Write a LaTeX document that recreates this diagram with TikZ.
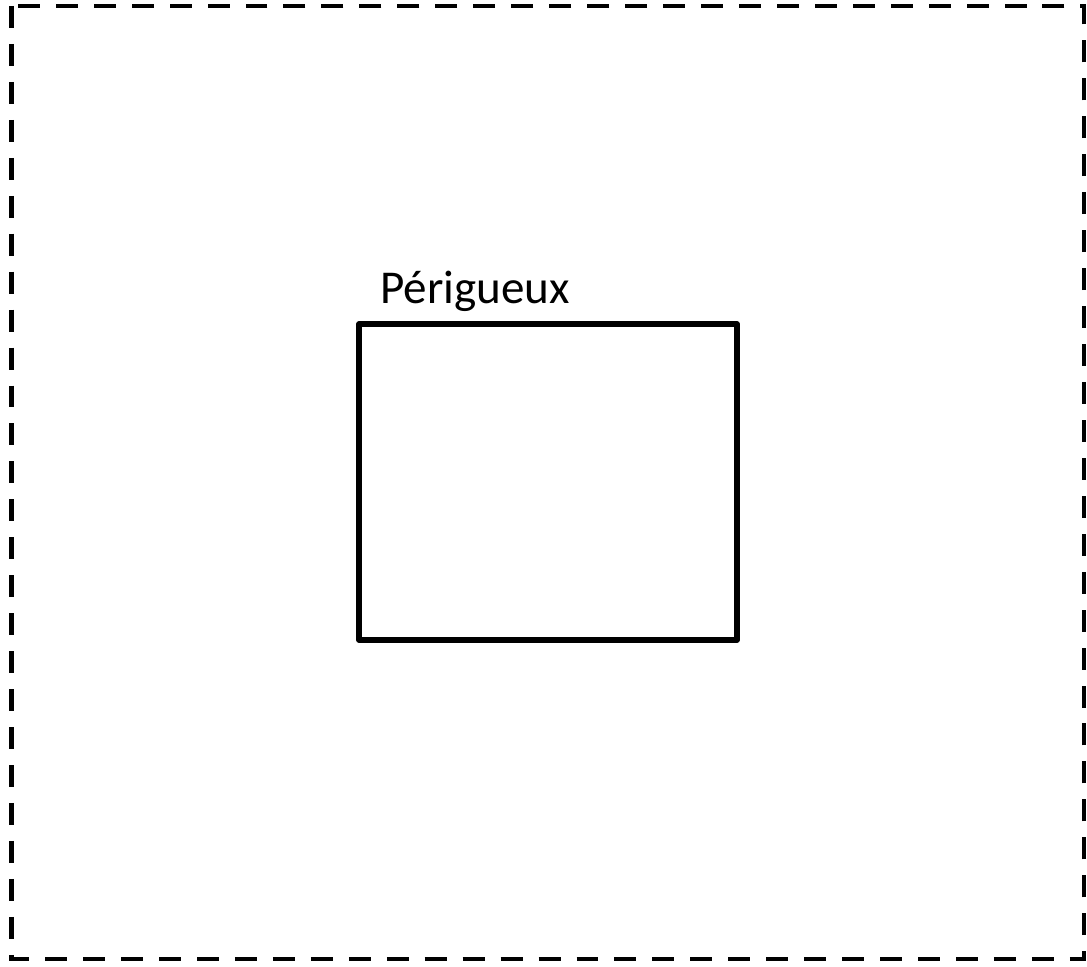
\documentclass[tikz,border=0pt]{standalone}
\usepackage{fontspec}
\setmainfont{Carlito}
\begin{document}
\begin{tikzpicture}[x=0.02cm, y=-0.02cm]
		\useasboundingbox (0, 0) rectangle (1087, 966);
		\draw[line width=2.8pt, dash pattern=on 12.5pt off 9.1pt] (11.5, 6) rectangle (1084, 959);
		
		\node[draw, line width=3.3pt, line join=round, minimum width=378*0.02cm, minimum height=316*0.02cm, inner sep=0pt, outer sep=0pt, anchor=north west] (ville) at (359, 324) {};
		\node[anchor=base west, inner sep=0pt, font=\fontsize{26.8}{32}\selectfont] (nom) at (380, 303) {Périgueux};
	\end{tikzpicture}
\end{document}
